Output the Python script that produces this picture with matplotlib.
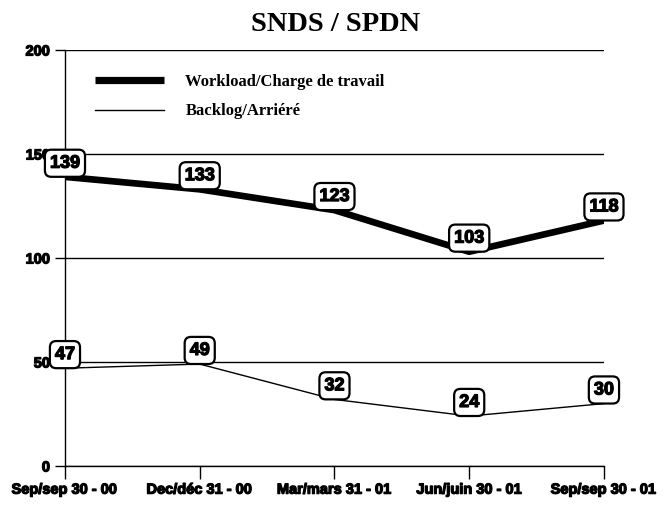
import matplotlib
matplotlib.use("Agg")
import matplotlib.pyplot as plt
import matplotlib.patheffects as pe

periods = ["Sep/sep 30 - 00", "Dec/déc 31 - 00", "Mar/mars 31 - 01",
           "Jun/juin 30 - 01", "Sep/sep 30 - 01"]
workload = [139, 133, 123, 103, 118]
backlog = [47, 49, 32, 24, 30]
yticks = [0, 50, 100, 150, 200]

# heavier strokes on the sans labels
heavy = [pe.withStroke(linewidth=0.9, foreground="black")]

fig = plt.figure(figsize=(6.65, 5.08), dpi=100)
ax = fig.add_axes([0.0977, 0.0827, 0.8105, 0.8189])

x = list(range(len(periods)))
ax.plot(x, workload, color="black", lw=4.8, solid_capstyle="butt",
        label="Workload/Charge de travail", zorder=3)
ax.plot(x, backlog, color="black", lw=1.0,
        label="Backlog/Arriéré", zorder=3)

box = dict(boxstyle="round,pad=0.28,rounding_size=0.35", fc="white",
           ec="black", lw=1.6)
for series in (workload, backlog):
    for xi, v in zip(x, series):
        ax.annotate(str(v), (xi, v), xytext=(0, 9.8), textcoords="offset points",
                    ha="center", va="center", fontsize=13, fontweight="bold",
                    family="Liberation Sans", bbox=box, zorder=5,
                    path_effects=heavy)

ax.set_xlim(0, len(periods) - 1)
ax.set_ylim(0, 200)
ax.set_yticks(yticks)
ax.set_xticks(x)
ax.set_xticklabels(periods)
for t in ax.get_xticklabels() + ax.get_yticklabels():
    t.set_family("Liberation Sans")
    t.set_fontweight("bold")
    t.set_fontsize(10.5)
    t.set_path_effects(heavy)
ax.tick_params(axis="y", length=7.2, width=1, pad=3.5)
ax.tick_params(axis="x", length=9, width=1, pad=3)
ax.yaxis.grid(True, color="black", lw=1)
ax.set_axisbelow(True)
for side in ("top", "right"):
    ax.spines[side].set_visible(False)
for side in ("left", "bottom"):
    ax.spines[side].set_linewidth(1)

leg = ax.legend(loc="upper left", bbox_to_anchor=(0.041, 0.962), frameon=False,
                borderpad=0, handlelength=4.1, handletextpad=1.3,
                labelspacing=0.8,
                prop={"family": "Liberation Serif", "weight": "bold", "size": 12})
leg.get_lines()[0].set_linewidth(5.2)

fig.text(0.504, 0.951, "SNDS / SPDN", ha="center", va="center",
         family="Liberation Serif", fontweight="bold", fontsize=20.5)

fig.savefig("out.png", dpi=100)
